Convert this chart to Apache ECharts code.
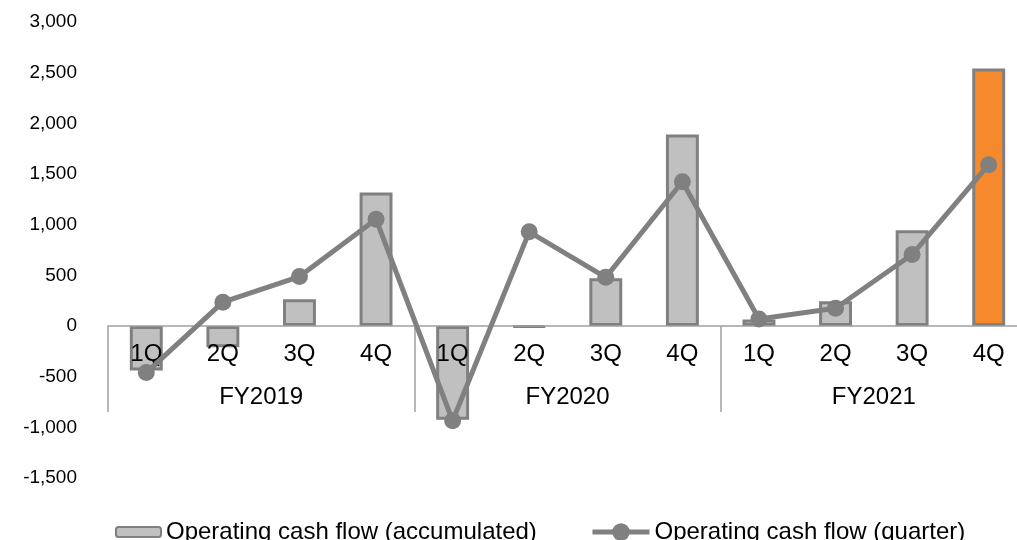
<!DOCTYPE html>
<html>
<head>
<meta charset="utf-8">
<script src="https://cdn.jsdelivr.net/npm/echarts@6/dist/echarts.min.js"></script>
<style>
  html, body { margin: 0; padding: 0; background: #fff; }
  #chart { width: 1017px; height: 540px; }
</style>
</head>
<body>
<div id="chart"></div>
<script>
const quarters = ['1Q', '2Q', '3Q', '4Q', '1Q', '2Q', '3Q', '4Q', '1Q', '2Q', '3Q', '4Q'];
const years = ['FY2019', 'FY2020', 'FY2021'];
const accumulated = [-440, -210, 265, 1318, -925, -8, 470, 1890, 65, 245, 945, 2540];
const quarterly = [-460, 235, 488, 1054, -935, 929, 480, 1423, 70, 175, 705, 1592];
const seriesNames = ['Operating cash flow (accumulated)', 'Operating cash flow (quarter)'];

const font = 'Liberation Sans, Arial, sans-serif';
const gray = '#808080';
const zeroOffset = -152; // 0 的位置：网格底部往上 152px

let myChart = echarts.init(document.getElementById('chart'));
let option = {
  animation: false,
  textStyle: { fontFamily: font },
  legend: [
    {
      top: 515,
      left: 110,
      itemWidth: 45,
      itemHeight: 10,
      itemGap: 5,
      textStyle: { fontFamily: font, fontSize: 24, color: '#000' },
      data: [seriesNames[0]]
    },
    {
      top: 515,
      left: 585,
      itemWidth: 57,
      itemHeight: 22,
      lineStyle: { width: 5, color: gray },
      textStyle: { fontFamily: font, fontSize: 24, color: '#000' },
      data: [seriesNames[1]]
    }
  ],
  grid: { // 坐标区右侧超出画布
    top: 22,
    left: 108,
    right: -10,
    bottom: 62,
    outerBoundsMode: 'none'
  },
  xAxis: [
    {
      type: 'category',
      data: quarters,
      position: 'bottom',
      offset: zeroOffset,
      z: 5,
      axisLine: { onZero: false, lineStyle: { color: '#a0a0a0', width: 1.5 } },
      axisTick: { show: false },
      axisLabel: { margin: 16, interval: 0, fontFamily: font, fontSize: 24, color: '#000' }
    },
    {
      type: 'category',
      data: years,
      position: 'bottom',
      offset: zeroOffset,
      axisLine: { onZero: false, show: false },
      axisTick: { show: true, length: 86, interval: 0, lineStyle: { color: '#a0a0a0', width: 1.5 } },
      axisLabel: { margin: 59, fontFamily: font, fontSize: 24, color: '#000' }
    }
  ],
  yAxis: {
    type: 'value',
    min: -1500,
    max: 3000,
    interval: 500,
    axisLine: { show: false },
    axisTick: { show: false },
    splitLine: { show: false },
    axisLabel: {
      margin: 31,
      fontFamily: font,
      fontSize: 19,
      color: '#000',
      formatter: function (v) { return v.toLocaleString('en-US'); }
    }
  },
  series: [
    {
      name: seriesNames[0],
      type: 'bar',
      xAxisIndex: 0,
      barWidth: '43%',
      itemStyle: { color: '#c0c0c0', borderColor: gray, borderWidth: 3 },
      data: accumulated.map(function (v, i) {
        if (i === accumulated.length - 1) {
          return { value: v, itemStyle: { color: '#f5892b' } };
        }
        return v;
      })
    },
    {
      name: seriesNames[1],
      type: 'line',
      xAxisIndex: 0,
      z: 6,
      symbol: 'circle',
      symbolSize: 17,
      lineStyle: { color: gray, width: 5 },
      itemStyle: { color: gray },
      data: quarterly
    }
  ]
};
myChart.setOption(option);
</script>
</body>
</html>
